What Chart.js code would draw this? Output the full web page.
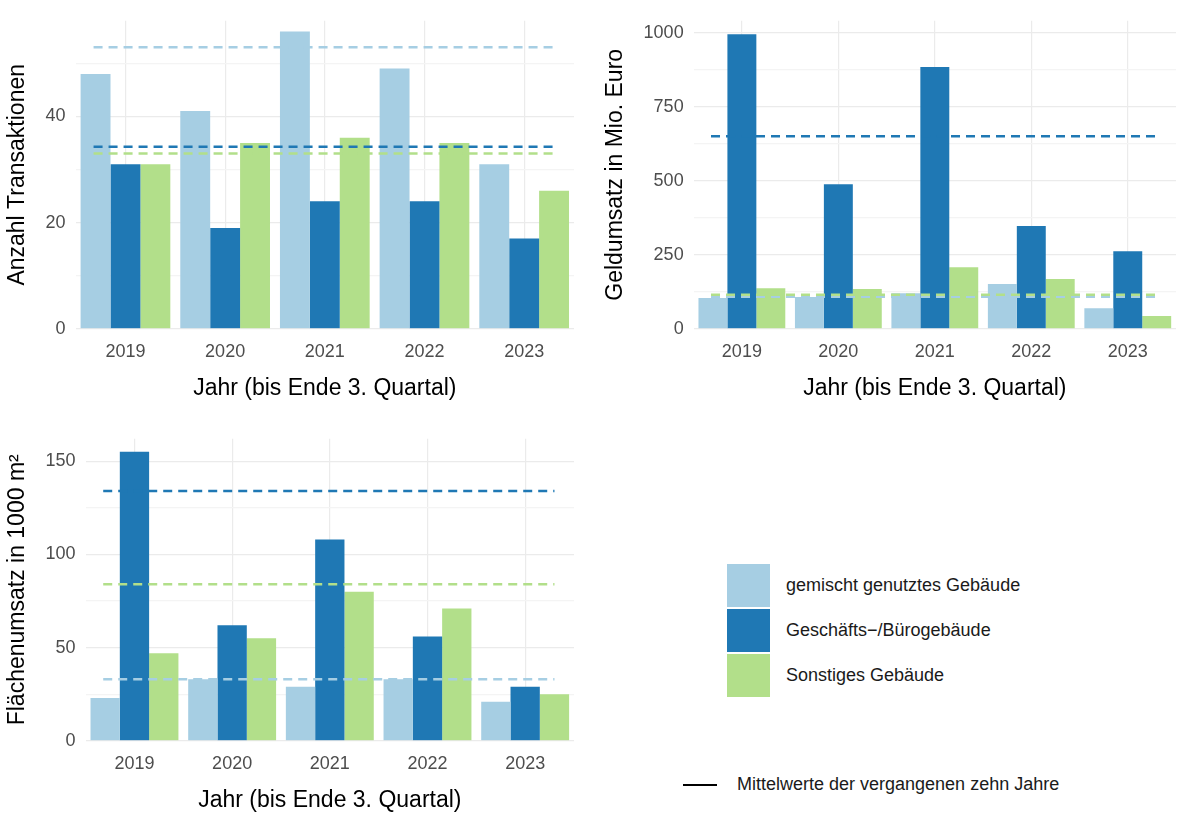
<!DOCTYPE html>
<html><head><meta charset="utf-8">
<script src="https://cdn.jsdelivr.net/npm/chart.js@4"></script>
<style>
body{margin:0;background:#fff;font-family:"Liberation Sans",Arial,sans-serif;}
.p{position:absolute;}
#leg{position:absolute;left:683px;top:563px;font-size:18px;color:#1a1a1a;}
.row{display:flex;align-items:center;height:45px;}
.sw{width:43px;height:43px;margin-left:44px;margin-right:16px;}
</style></head><body>
<div class="p" style="left:0;top:0;width:590px;height:406px"><canvas id="c1"></canvas></div>
<div class="p" style="left:598px;top:0;width:594px;height:406px"><canvas id="c2"></canvas></div>
<div class="p" style="left:0;top:418px;width:590px;height:400px"><canvas id="c3"></canvas></div>
<div id="leg">
 <div class="row"><div class="sw" style="background:#A6CEE3"></div>gemischt genutztes Gebäude</div>
 <div class="row"><div class="sw" style="background:#1F78B4"></div>Geschäfts−/Bürogebäude</div>
 <div class="row"><div class="sw" style="background:#B2DF8A"></div>Sonstiges Gebäude</div>
 <div class="row" style="margin-top:64px"><div style="width:34px;border-top:2.5px solid #000;margin-left:0;margin-right:20px"></div>Mittelwerte der vergangenen zehn Jahre</div>
</div>
<script>
const years = ['2019','2020','2021','2022','2023'];
const seriesNames = ['gemischt genutztes Gebäude','Geschäfts−/Bürogebäude','Sonstiges Gebäude'];
const colors = ['#A6CEE3','#1F78B4','#B2DF8A'];

// Anzahl Transaktionen
const countMixed = [48, 41, 56, 49, 31];
const countOffice = [31, 19, 24, 24, 17];
const countOther = [31, 35, 36, 35, 26];
const countMeans = [53, 34.3, 33];

// Geldumsatz in Mio. Euro
const moneyMixed = [104, 107, 120, 151, 69];
const moneyOffice = [995, 488, 884, 347, 262];
const moneyOther = [137, 134, 208, 168, 43];
const moneyMeans = [108, 650, 115];

// Flächenumsatz in 1000 m²
const areaMixed = [23, 33, 29, 33, 21];
const areaOffice = [155, 62, 108, 56, 29];
const areaOther = [47, 55, 80, 71, 25];
const areaMeans = [33, 134, 84];

const meanLines = {
  id: 'meanLines',
  afterDatasetsDraw(chart, args, opts) {
    const x = chart.scales.x, y = chart.scales.y, c = chart.ctx;
    const step = x.getPixelForValue(1) - x.getPixelForValue(0);
    const x0 = x.getPixelForValue(0) - 0.32 * step;
    const x1 = x.getPixelForValue(years.length - 1) + 0.3 * step;
    c.save();
    c.setLineDash([9, 6]);
    c.lineWidth = 2.5;
    opts.means.forEach((m, i) => {
      c.strokeStyle = colors[i];
      const py = y.getPixelForValue(m);
      c.beginPath(); c.moveTo(x0, py); c.lineTo(x1, py); c.stroke();
    });
    c.restore();
  }
};

function makeChart(id, data, means, title, max, step, labelStep) {
  new Chart(document.getElementById(id), {
    type: 'bar',
    data: {
      labels: years,
      datasets: data.map((v, i) => ({
        label: seriesNames[i], data: v, backgroundColor: colors[i],
        barPercentage: 1, categoryPercentage: 0.9
      }))
    },
    options: {
      animation: false, responsive: true, maintainAspectRatio: false,
      layout: {padding: {top: 2, right: 16}},
      plugins: {legend: {display: false}, tooltip: {enabled: false}, meanLines: {means: means}},
      scales: {
        x: {
          grid: {offset: false, color: '#ebebeb', lineWidth: 1.2, drawTicks: false},
          border: {display: false},
          ticks: {color: '#4d4d4d', font: {size: 18, family: 'Liberation Sans'}, padding: 12},
          title: {display: true, text: 'Jahr (bis Ende 3. Quartal)', color: '#000', font: {size: 23, family: 'Liberation Sans'}, padding: {top: 0}}
        },
        y: {
          min: 0, max: max,
          grid: {color: ctx => (ctx.tick && ctx.tick.value % labelStep === 0) ? '#ebebeb' : '#f4f4f4', lineWidth: 1.2, drawTicks: false},
          border: {display: false},
          ticks: {stepSize: step, autoSkip: false, includeBounds: false, color: '#4d4d4d', font: {size: 18, family: 'Liberation Sans'}, padding: 10,
            callback: v => (v % labelStep === 0 ? v : '')},
          title: {display: true, text: title, color: '#000', font: {size: 23, family: 'Liberation Sans'}, padding: {bottom: 4}}
        }
      }
    },
    plugins: [meanLines]
  });
}

makeChart('c1', [countMixed, countOffice, countOther], countMeans, 'Anzahl Transaktionen', 58, 10, 20);
makeChart('c2', [moneyMixed, moneyOffice, moneyOther], moneyMeans, 'Geldumsatz in Mio. Euro', 1040, 125, 250);
makeChart('c3', [areaMixed, areaOffice, areaOther], areaMeans, 'Flächenumsatz in 1000 m²', 162, 25, 50);
</script>
</body></html>
